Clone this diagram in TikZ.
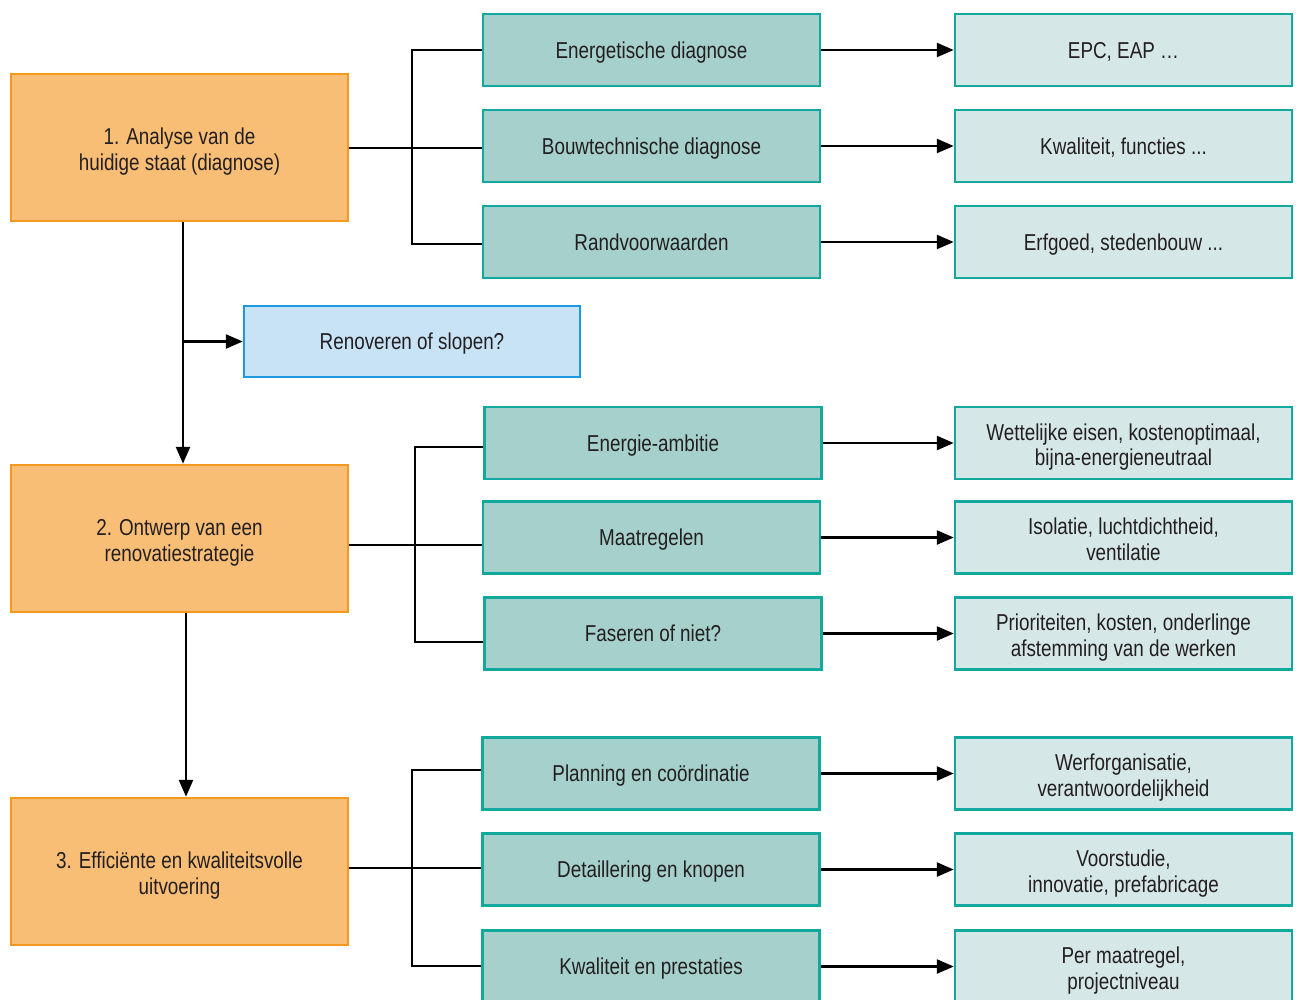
\documentclass[tikz,border=0pt]{standalone}
\usepackage{fontspec}
\setmainfont{Liberation Sans}[FakeStretch=0.82]
\usetikzlibrary{arrows.meta,calc}
\definecolor{orfill}{HTML}{F9BE76}
\definecolor{ordraw}{HTML}{F39A1E}
\definecolor{tlfill}{HTML}{A6D0CB}
\definecolor{tldraw}{HTML}{13A89E}
\definecolor{ltfill}{HTML}{D5E7E6}
\definecolor{blfill}{HTML}{C8E3F6}
\definecolor{bldraw}{HTML}{1C9BE0}
\definecolor{txt}{HTML}{231F20}
\tikzset{
  base/.style={rectangle, line width=2.5pt, align=center, inner sep=0pt, text=txt,
    font=\fontsize{23}{25.5}\selectfont, text height=22.6pt, text depth=6pt},
  two/.style={text height=51pt, text depth=6pt},
  phase/.style={base, two, fill=orfill, draw=ordraw, minimum width=337pt, minimum height=147pt},
  sub/.style={base, fill=tlfill, draw=tldraw, minimum width=337pt, minimum height=72pt},
  res/.style={base, fill=ltfill, draw=tldraw, minimum width=337pt, minimum height=72pt},
  qbox/.style={base, fill=blfill, draw=bldraw, minimum width=336pt, minimum height=71pt},
  conn/.style={line width=2.5pt, black},
  arr/.style={conn, -{Triangle[length=17pt,width=14pt]}}
}
\begin{document}
\begin{tikzpicture}[x=1pt,y=-1pt]
\useasboundingbox (0,0) rectangle (1298,999);
\clip (0,0) rectangle (1298,999);
% phases
\node[phase] (p1) at (179.5,147.5) {1. Analyse van de\\huidige staat (diagnose)};
\node[phase] (p2) at (179.5,538.5) {2. Ontwerp van een\\renovatiestrategie};
\node[phase] (p3) at (179.5,871.5) {3. Efficiënte en kwaliteitsvolle\\uitvoering};
\node[qbox] (q) at (412,341.5) {Renoveren of slopen?};
% sub column
\node[sub] (s1) at (651.5,50) {Energetische diagnose};
\node[sub] (s2) at (651.5,146) {Bouwtechnische diagnose};
\node[sub] (s3) at (651.5,242) {Randvoorwaarden};
\node[sub] (s4) at (653,443) {Energie-ambitie};
\node[sub] (s5) at (651.5,537.5) {Maatregelen};
\node[sub] (s6) at (653,633.5) {Faseren of niet?};
\node[sub] (s7) at (651,773.5) {Planning en coördinatie};
\node[sub] (s8) at (651,869.5) {Detaillering en knopen};
\node[sub] (s9) at (651,966.5) {Kwaliteit en prestaties};
% result column
\node[res] (r1) at (1123.5,50) {EPC, EAP \ldots};
\node[res] (r2) at (1123.5,146) {Kwaliteit, functies ...};
\node[res] (r3) at (1123.5,242) {Erfgoed, stedenbouw ...};
\node[res,two] (r4) at (1123.5,443) {Wettelijke eisen, kostenoptimaal,\\bijna-energieneutraal};
\node[res,two] (r5) at (1123.5,537.5) {Isolatie, luchtdichtheid,\\ventilatie};
\node[res,two] (r6) at (1123.5,633.5) {Prioriteiten, kosten, onderlinge\\afstemming van de werken};
\node[res,two] (r7) at (1123.5,773.5) {Werforganisatie,\\verantwoordelijkheid};
\node[res,two] (r8) at (1123.5,869.5) {Voorstudie,\\innovatie, prefabricage};
\node[res,two] (r9) at (1123.5,966.5) {Per maatregel,\\projectniveau};
% arrows to results
\foreach \i in {1,...,9} {\draw[arr] (s\i.east) -- (r\i.west);}
% brackets
\draw[conn] (s1.west) -- (412,50) -- (412,244) -- (s3.west |- 0,244);
\draw[conn] (p1.east |- 0,148) -- (s2.west |- 0,148);
\draw[conn] (s4.west |- 0,447) -- (415,447) -- (415,642) -- (s6.west |- 0,642);
\draw[conn] (p2.east |- 0,545) -- (s5.west |- 0,545);
\draw[conn] (s7.west |- 0,770) -- (412,770) -- (412,966) -- (s9.west |- 0,966);
\draw[conn] (p3.east |- 0,868) -- (s8.west |- 0,868);
% vertical flow
\draw[arr] (p1.south -| 183,0) -- (p2.north -| 183,0);
\draw[arr] (q.west -| 183,0) -- (q.west);
\draw[arr] (p2.south -| 186,0) -- (p3.north -| 186,0);
\end{tikzpicture}
\end{document}
